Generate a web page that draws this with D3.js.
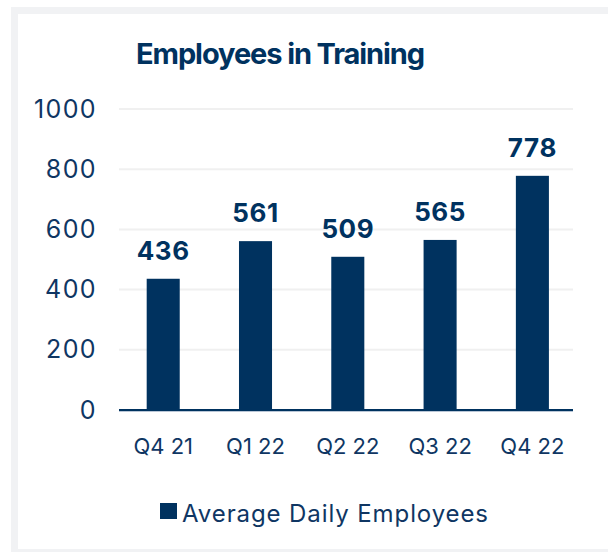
<!DOCTYPE html>
<html>
<head>
<meta charset="utf-8">
<script src="https://cdn.jsdelivr.net/npm/d3@7"></script>
<style>
  body { margin: 0; background: #fff; }
  svg { display: block; font-family: Inter, "Noto Sans", sans-serif; }
</style>
</head>
<body>
<svg id="chart" width="608" height="552"></svg>
<script>
const quarters = ["Q4 21", "Q1 22", "Q2 22", "Q3 22", "Q4 22"]
const employees = [436, 561, 509, 565, 778]
const yTicks = [0, 200, 400, 600, 800, 1000]
const seriesName = "Average Daily Employees"

const navy = "#00325f"
const textColor = "#0f3663"

const svg = d3.select("#chart")

// card frame
svg.append("rect").attr("x", 11).attr("y", 7).attr("width", 600).attr("height", 548).attr("fill", "#f1f2f4")
svg.append("rect").attr("x", 18).attr("y", 14).attr("width", 600).attr("height", 535).attr("fill", "#fff")

const x = d3.scaleBand().domain(quarters).range([119, 576.6]).paddingInner(0.642).paddingOuter(0.3)
const y = d3.scaleLinear().domain([0, 1000]).range([410, 109])

svg.append("text")
    .attr("x", 280).attr("y", 64)
    .attr("text-anchor", "middle")
    .attr("font-size", 29).attr("font-weight", 700)
    .attr("letter-spacing", -1.1)
    .attr("fill", navy)
    .text("Employees in Training")

// grid
svg.append("g").selectAll("line")
    .data(yTicks.filter(d => d > 0))
    .enter().append("line")
    .attr("x1", 119).attr("x2", 573)
    .attr("y1", d => y(d)).attr("y2", d => y(d))
    .attr("stroke", "#f0f0f0").attr("stroke-width", 2)

const yAxis = svg.append("g")
    .attr("transform", "translate(119,0)")
    .call(d3.axisLeft(y).tickValues(yTicks).tickFormat(d3.format("d")).tickSize(0).tickPadding(22))
yAxis.select(".domain").remove()
yAxis.selectAll("text")
    .attr("font-size", 25).attr("fill", textColor)
    .attr("letter-spacing", 1.4)
    .attr("font-family", "Inter, sans-serif")

svg.append("g").selectAll("rect")
    .data(employees)
    .enter().append("rect")
    .attr("x", (d, i) => x(quarters[i]))
    .attr("width", x.bandwidth())
    .attr("y", d => y(d))
    .attr("height", d => y(0) - y(d))
    .attr("fill", navy)

svg.append("g").selectAll("text")
    .data(employees)
    .enter().append("text")
    .attr("x", (d, i) => x(quarters[i]) + x.bandwidth() / 2)
    .attr("y", d => y(d) - 19)
    .attr("text-anchor", "middle")
    .attr("font-size", 26).attr("font-weight", 700)
    .attr("letter-spacing", 0.6)
    .attr("fill", navy)
    .text(d => d)

// baseline
svg.append("line").attr("x1", 119).attr("x2", 573).attr("y1", y(0) + 1.5).attr("y2", y(0) + 1.5)
    .attr("stroke", "#b9c6d6").attr("stroke-width", 1)
svg.append("line").attr("x1", 119).attr("x2", 573).attr("y1", y(0)).attr("y2", y(0))
    .attr("stroke", navy).attr("stroke-width", 2)

const xAxis = svg.append("g")
    .attr("transform", `translate(0,${y(0)})`)
    .call(d3.axisBottom(x).tickSize(0).tickPadding(28))
xAxis.select(".domain").remove()
xAxis.selectAll("text")
    .attr("font-size", 22).attr("fill", textColor)
    .attr("font-family", "Inter, sans-serif")

// legend
const legend = svg.append("g").attr("transform", "translate(160,503)")
legend.append("rect").attr("width", 17).attr("height", 16).attr("fill", navy)
legend.append("text")
    .attr("x", 22).attr("y", 18.5)
    .attr("font-size", 24).attr("fill", textColor)
    .attr("letter-spacing", 0.9)
    .text(seriesName)
</script>
</body>
</html>
